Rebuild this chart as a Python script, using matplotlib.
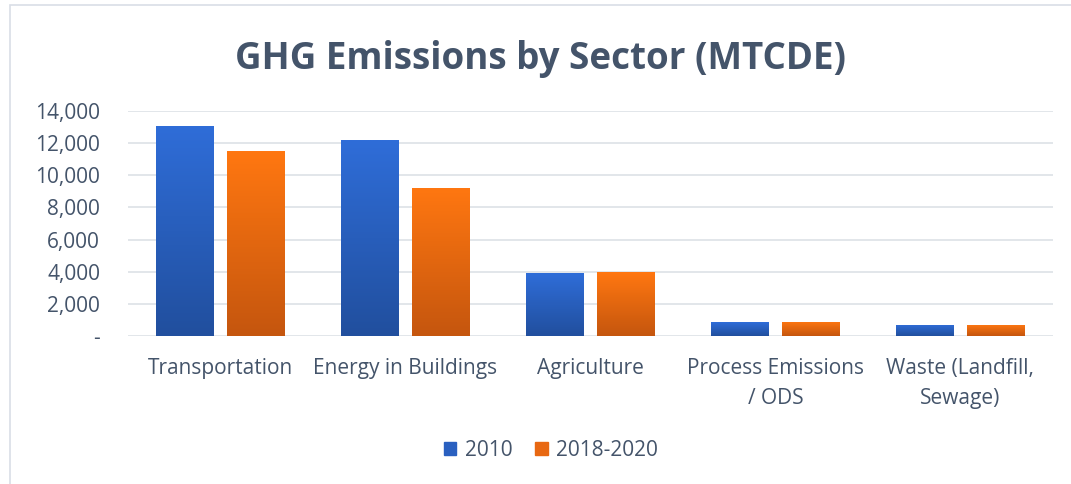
import numpy as np
import matplotlib
matplotlib.use('Agg')
import matplotlib.pyplot as plt
from matplotlib import patheffects as pe
from matplotlib.colors import LinearSegmentedColormap
from matplotlib.patches import Rectangle, Patch

sectores = ['Transportation', 'Energy in Buildings', 'Agriculture',
            'Process Emissions\n/ ODS', 'Waste (Landfill,\nSewage)']
emis_2010 = [13100, 12200, 3920, 870, 690]
emis_2018 = [11520, 9220, 3980, 880, 690]
series = ['2010', '2018-2020']
yticks = [0, 2000, 4000, 6000, 8000, 10000, 12000, 14000]
ytick_labels = ['-', '2,000', '4,000', '6,000', '8,000', '10,000', '12,000', '14,000']

texto = '#44546A'
plt.rcParams['font.family'] = ['Open Sans', 'DejaVu Sans']

fig = plt.figure(figsize=(10.71, 4.84), dpi=100)
ax = fig.add_axes([0.1195, 0.306, 0.8635, 0.4645])

# borde del cuadro del grafico
fig.patches.append(Rectangle((10 / 1071, -0.05), 1.1, 1 - 5 / 484 + 0.05,
                             transform=fig.transFigure, fill=False,
                             edgecolor='#D9DEE6', linewidth=1.2))

grad_azul = LinearSegmentedColormap.from_list('az', ['#214F9E', '#2F6DD8'])
grad_nar = LinearSegmentedColormap.from_list('na', ['#C5560E', '#FF7711'])

x = np.arange(len(sectores))
ancho = 0.31
sep = 0.192
grad = np.linspace(0, 1, 100).reshape(-1, 1)
for valores, desp, cmap in [(emis_2010, -sep, grad_azul), (emis_2018, sep, grad_nar)]:
    barras = ax.bar(x + desp, valores, ancho, color=cmap(0.5), zorder=3,
                    path_effects=[pe.SimplePatchShadow(offset=(0, -2), alpha=0.25),
                                  pe.Normal()])
    for b in barras:
        x0, y0 = b.get_x(), b.get_y()
        im = ax.imshow(grad, cmap=cmap, origin='lower', aspect='auto', zorder=4,
                       extent=[x0, x0 + b.get_width(), y0, y0 + b.get_height()])
        im.set_clip_path(b)

ax.set_xlim(-0.5, 4.5)
ax.set_ylim(0, 14000)
ax.set_yticks(yticks)
ax.set_yticklabels(ytick_labels)
ax.set_xticks(x)
ax.set_xticklabels(sectores, linespacing=1.55)
ax.tick_params(axis='both', length=0, labelsize=15, labelcolor=texto)
ax.tick_params(axis='y', pad=20)
ax.tick_params(axis='x', pad=16)
ax.grid(axis='y', color='#DDE1E6', linewidth=1.2, zorder=0)
for s in ax.spines.values():
    s.set_visible(False)

fig.text(0.5046, 0.878, 'GHG Emissions by Sector (MTCDE)', ha='center', va='center',
         fontsize=26.5, fontweight='bold', color=texto)

handles = [Patch(color='#2A60C0'), Patch(color='#E86812')]
fig.legend(handles, series, loc='center', bbox_to_anchor=(0.5145, 0.07), ncol=2,
           frameon=False, fontsize=15, labelcolor=texto, handlelength=0.6,
           handleheight=0.6, handletextpad=0.4, columnspacing=1.1)

fig.savefig('out.png', dpi=100)
